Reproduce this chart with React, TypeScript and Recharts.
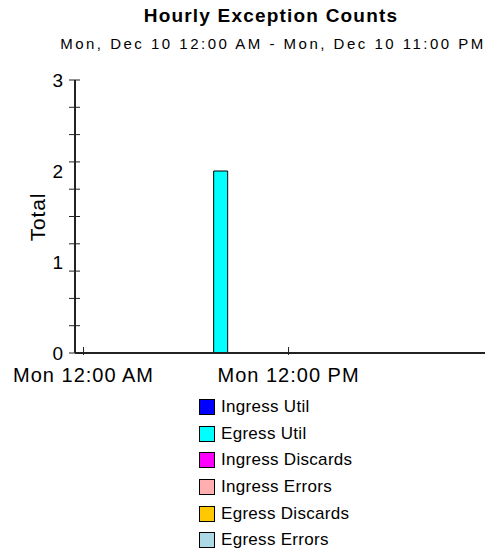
import React from 'react'
import { BarChart, Bar, XAxis, YAxis, Legend } from 'recharts'

const FONT = "'Liberation Sans', Arial, sans-serif"

const HOURS = [0, 1, 2, 3, 4, 5, 6, 7, 8, 9, 10, 11, 12, 13, 14, 15, 16, 17, 18, 19, 20, 21, 22, 23]
const INGRESS_UTIL = [0, 0, 0, 0, 0, 0, 0, 0, 0, 0, 0, 0, 0, 0, 0, 0, 0, 0, 0, 0, 0, 0, 0, 0]
const EGRESS_UTIL = [0, 0, 0, 0, 0, 0, 0, 0, 2, 0, 0, 0, 0, 0, 0, 0, 0, 0, 0, 0, 0, 0, 0, 0]
const INGRESS_DISCARDS = [0, 0, 0, 0, 0, 0, 0, 0, 0, 0, 0, 0, 0, 0, 0, 0, 0, 0, 0, 0, 0, 0, 0, 0]
const INGRESS_ERRORS = [0, 0, 0, 0, 0, 0, 0, 0, 0, 0, 0, 0, 0, 0, 0, 0, 0, 0, 0, 0, 0, 0, 0, 0]
const EGRESS_DISCARDS = [0, 0, 0, 0, 0, 0, 0, 0, 0, 0, 0, 0, 0, 0, 0, 0, 0, 0, 0, 0, 0, 0, 0, 0]
const EGRESS_ERRORS = [0, 0, 0, 0, 0, 0, 0, 0, 0, 0, 0, 0, 0, 0, 0, 0, 0, 0, 0, 0, 0, 0, 0, 0]

const X_TICKS = [0, 12]
const X_LABELS = ['Mon 12:00 AM', 'Mon 12:00 PM']
const Y_TICK_MARKS = [0, 0.3, 0.6, 0.9, 1.2, 1.5, 1.8, 2.1, 2.4, 2.7, 3]
const Y_LABELS = [0, 1, 2, 3]

const SERIES = [
  { key: 'ingressUtil', name: 'Ingress Util', color: '#0000FF', values: INGRESS_UTIL },
  { key: 'egressUtil', name: 'Egress Util', color: '#00FFFF', values: EGRESS_UTIL },
  { key: 'ingressDiscards', name: 'Ingress Discards', color: '#FF00FF', values: INGRESS_DISCARDS },
  { key: 'ingressErrors', name: 'Ingress Errors', color: '#FFAFAF', values: INGRESS_ERRORS },
  { key: 'egressDiscards', name: 'Egress Discards', color: '#FFC800', values: EGRESS_DISCARDS },
  { key: 'egressErrors', name: 'Egress Errors', color: '#ADD8E6', values: EGRESS_ERRORS },
]

const data = HOURS.map((h, i) => {
  const row: Record<string, number> = { hour: h }
  SERIES.forEach(s => { row[s.key] = s.values[i] })
  return row
})

const yTicks = [...new Set([...Y_TICK_MARKS, ...Y_LABELS])].sort((a, b) => a - b)
const seriesOrder = (name: string) => SERIES.findIndex(s => s.name === name)

function YTick({ x, y, payload }: any) {
  const v = payload.value
  return (
    <g>
      {Y_TICK_MARKS.includes(v) && <line x1={x - 6} x2={x + 5} y1={y} y2={y} stroke="#222" />}
      {Y_LABELS.includes(v) && (
        <text x={x - 12} y={y + 7} textAnchor="end" fill="#000"
          style={{ fontFamily: FONT, fontSize: 19 }}>{v}</text>
      )}
    </g>
  )
}

function XTick({ x, y, payload }: any) {
  const i = X_TICKS.indexOf(payload.value)
  return (
    <g>
      <line x1={x} x2={x} y1={y - 6} y2={y + 2} stroke="#222" />
      <text x={x} y={y + 29} textAnchor="middle" fill="#000"
        style={{ fontFamily: FONT, fontSize: 20, letterSpacing: 1 }}>{X_LABELS[i]}</text>
    </g>
  )
}

function LegendBox({ payload }: any) {
  const items = [...(payload ?? [])].sort((a: any, b: any) => seriesOrder(a.value) - seriesOrder(b.value))
  return (
    <div style={{ margin: 0, padding: 0 }}>
      {items.map((p: any) => (
        <div key={p.value} style={{ display: 'flex', alignItems: 'center', height: 26.6 }}>
          <span style={{ display: 'inline-block', width: 14, height: 14, border: '1px solid #000', background: p.color }} />
          <span style={{ marginLeft: 6, fontFamily: FONT, fontSize: 17, letterSpacing: 0.3, color: '#000' }}>{p.value}</span>
        </div>
      ))}
    </div>
  )
}

export default function App() {
  return (
    <div style={{ position: 'absolute', left: 0, top: 0, width: 498, height: 560, background: '#fff' }}>
      <BarChart width={498} height={560} data={data}
        margin={{ top: 80, right: 13, left: 0, bottom: 167 }}>
        <XAxis dataKey="hour" type="number" domain={[-0.5, 23.5]} ticks={X_TICKS} interval={0}
          tickSize={0} tickMargin={0} height={40} tick={<XTick />}
          axisLine={{ stroke: '#222', strokeWidth: 2 }} />
        <YAxis type="number" domain={[0, 3]} ticks={yTicks} interval={0} width={75}
          tickSize={0} tickMargin={0} tick={<YTick />}
          axisLine={{ stroke: '#222', strokeWidth: 2 }} />
        <Legend layout="vertical" align="center" verticalAlign="middle"
          wrapperStyle={{ left: 199, top: 394, width: 'auto' }} content={<LegendBox />} />
        {SERIES.map(s => (
          <Bar key={s.key} dataKey={s.key} name={s.name} stackId="a" fill={s.color}
            stroke="#000" strokeWidth={1} barSize={14} isAnimationActive={false} />
        ))}
      </BarChart>
      <svg width={498} height={560} style={{ position: 'absolute', left: 0, top: 0, pointerEvents: 'none' }}>
        <text x={271} y={22} textAnchor="middle" fill="#000"
          style={{ fontFamily: FONT, fontSize: 19, fontWeight: 'bold', letterSpacing: 1.2 }}>Hourly Exception Counts</text>
        <text x={273} y={49} textAnchor="middle" fill="#000"
          style={{ fontFamily: FONT, fontSize: 15, letterSpacing: 2.5 }}>Mon, Dec 10 12:00 AM - Mon, Dec 10 11:00 PM</text>
        <text x={45} y={217} textAnchor="middle" fill="#000" transform="rotate(-90 45 217)"
          style={{ fontFamily: FONT, fontSize: 21, letterSpacing: 0.8 }}>Total</text>
      </svg>
    </div>
  )
}
